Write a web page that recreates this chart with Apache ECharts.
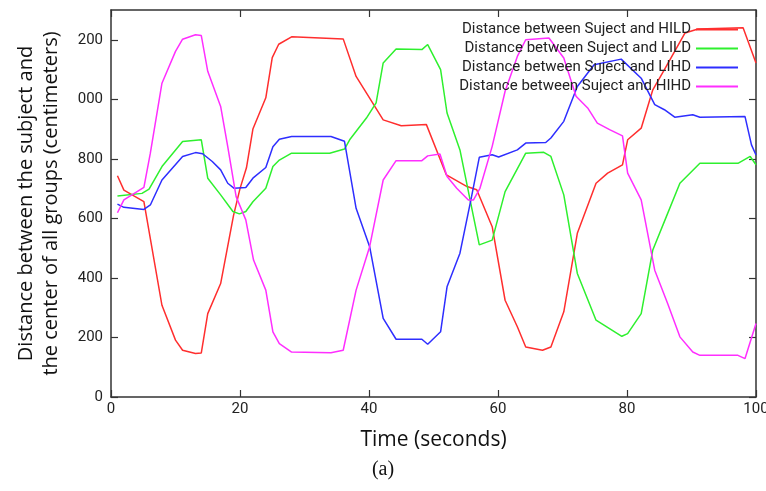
<!DOCTYPE html>
<html>
<head>
<meta charset="utf-8">
<script src="https://cdn.jsdelivr.net/npm/echarts@6/dist/echarts.min.js"></script>
<style>
  html, body { margin: 0; padding: 0; background: #fff; }
  #chart { width: 766px; height: 491px; }
  #err { position: absolute; left: 130px; top: 150px; width: 600px; font: 12px monospace; color: #900; }
</style>
</head>
<body>
<div id="chart"></div>
<div id="err"></div>
<script>
window.onerror = function (msg, src, line) {
  document.getElementById('err').textContent += msg + ' @' + line + ' | ';
};
</script>
<script>
// time (s) and distance (cm) breakpoints for each group
const hildT = [1, 2, 5.1, 7.9, 10, 11.1, 13.1, 14, 15, 17, 19, 20, 21, 22, 24, 25, 26, 28, 36, 38, 40.1, 42.2, 45, 48.9, 52, 55.2, 56.7, 59.1, 61.1, 63, 64.3, 66.9, 68.2, 70.2, 72.3, 75.2, 77, 79.3, 80.1, 82.2, 84, 85.8, 89, 91, 98, 100];
const hildV = [743, 695, 656, 308, 191, 157, 146, 148, 280, 381, 610, 700, 770, 900, 1005, 1140, 1185, 1210, 1203, 1077, 1004, 931, 911, 915, 746, 707, 696, 572, 325, 236, 168, 157, 168, 286, 550, 718, 752, 780, 864, 903, 1032, 1100, 1223, 1236, 1240, 1122];

const lildT = [1, 4.8, 5.9, 7.9, 11.1, 14, 15, 17, 18.9, 19.9, 20.9, 22, 24, 25.1, 26.1, 28, 33.9, 36.2, 37, 39.6, 41.1, 42.2, 44.2, 48.2, 49.1, 51.1, 52.1, 54.1, 56.2, 57.1, 59.1, 61.1, 64.3, 67.1, 68.2, 70.2, 72.3, 75.2, 79.2, 80.1, 82.2, 84, 86.1, 88.2, 91.3, 97.2, 99.1, 100];
const lildV = [675, 684, 698, 774, 858, 864, 735, 679, 623, 615, 623, 656, 701, 774, 796, 819, 819, 833, 864, 937, 988, 1122, 1169, 1167, 1184, 1100, 954, 830, 606, 511, 527, 690, 819, 822, 808, 679, 415, 258, 204, 213, 280, 494, 606, 718, 785, 785, 808, 780];

const lihdT = [1, 2, 5.1, 6.1, 7.9, 11.1, 13.1, 14.2, 15.7, 17, 18.1, 19.1, 20.9, 22, 24, 25.1, 26.1, 28, 34.1, 36.2, 38, 40.1, 42.2, 44.2, 48.2, 49.1, 51.1, 52.1, 54.1, 55.9, 57.1, 59.1, 60.1, 63, 64.3, 67.4, 68.2, 70.2, 72.3, 74.9, 79.1, 82.2, 84.3, 85.8, 87.4, 90.2, 91.3, 98.3, 99.3, 100];
const lihdV = [648, 637, 630, 645, 729, 808, 821, 817, 791, 763, 718, 701, 704, 735, 771, 841, 866, 875, 875, 859, 634, 505, 264, 194, 194, 177, 219, 370, 483, 673, 805, 814, 806, 830, 853, 855, 870, 926, 1043, 1116, 1135, 1071, 982, 965, 940, 948, 940, 942, 847, 813];

const hihdT = [1, 2, 5.1, 6.1, 7.9, 10, 11.1, 13.1, 14, 15, 17, 18.1, 19.4, 20.9, 22.1, 24, 25.1, 26.1, 28, 34.1, 36, 38, 40.1, 42.2, 44.2, 48.2, 49.1, 51, 52.1, 53.6, 55.4, 56.2, 57.2, 59.1, 61.1, 63, 64.3, 67.9, 70.2, 72.1, 73.9, 75.4, 77.3, 79.3, 80.1, 82.2, 84.3, 86.3, 88.2, 90.2, 91.3, 97.2, 98.3, 100];
const hihdV = [619, 662, 704, 819, 1054, 1161, 1202, 1217, 1214, 1094, 976, 841, 673, 595, 460, 359, 219, 179, 151, 149, 157, 359, 505, 729, 794, 794, 810, 816, 741, 701, 662, 662, 701, 842, 1027, 1144, 1200, 1206, 1139, 1010, 971, 920, 898, 877, 752, 662, 426, 314, 202, 151, 140, 140, 129, 247];

const seriesNames = [
  'Distance between Suject and HILD',
  'Distance between Suject and LILD',
  'Distance between Suject and LIHD',
  'Distance between Suject and HIHD'
];
const seriesColors = ['#ff2e2e', '#2ef02e', '#2e2eff', '#ff2eff'];
const yTicks = [0, 200, 400, 600, 800, 1000, 1200];

const pairs = (t, v) => t.map((x, i) => [x, v[i]]);
const allData = [pairs(hildT, hildV), pairs(lildT, lildV), pairs(lihdT, lihdV), pairs(hihdT, hihdV)];

const chart = echarts.init(document.getElementById('chart'));
const axisLine = () => ({ show: true, onZero: false, lineStyle: { color: '#333', width: 1.5 } });
const tickIn = () => ({ show: true, inside: true, length: 7, lineStyle: { color: '#333', width: 1.2 } });
const yTickIn = () => Object.assign(tickIn(), { customValues: yTicks });

chart.setOption({
  animation: false,
  grid: { left: 111, right: 10, top: 10, bottom: 94, containLabel: false, outerBoundsMode: 'none' },
  title: {
    text: '(a)',
    left: 'center',
    top: 455,
    textStyle: { fontFamily: 'Liberation Serif', fontSize: 20, fontWeight: 'normal', color: '#111' }
  },
  legend: {
    right: 23,
    top: 17,
    orient: 'vertical',
    align: 'right',
    icon: 'rect',
    itemWidth: 42,
    itemHeight: 2,
    itemGap: 4,
    data: seriesNames,
    textStyle: { fontFamily: 'Roboto', fontSize: 15, color: '#222', lineHeight: 15 }
  },
  xAxis: [
    {
      type: 'value', min: 0, max: 100, interval: 20,
      name: 'Time (seconds)', nameLocation: 'middle', nameGap: 33,
      nameTextStyle: { fontFamily: 'Open Sans', fontSize: 21, color: '#111' },
      axisLine: axisLine(), axisTick: tickIn(), splitLine: { show: false },
      axisLabel: { fontFamily: 'Roboto', fontSize: 15, color: '#222', margin: 5 }
    },
    {
      type: 'value', min: 0, max: 100, interval: 20, position: 'top',
      axisLine: axisLine(), axisTick: tickIn(), axisLabel: { show: false }, splitLine: { show: false }
    }
  ],
  yAxis: [
    {
      type: 'value', min: 0, max: 1300, interval: 200,
      name: 'Distance between the subject and\nthe center of all groups (centimeters)',
      nameLocation: 'middle', nameGap: 47,
      nameTextStyle: { fontFamily: 'Open Sans', fontSize: 20, color: '#111', lineHeight: 25 },
      axisLine: axisLine(), axisTick: yTickIn(), splitLine: { show: false },
      axisLabel: {
        fontFamily: 'Roboto', fontSize: 15, color: '#222', margin: 8,
        customValues: yTicks,
        formatter: v => (v >= 1000 ? String(v).slice(1) : String(v))
      }
    },
    {
      type: 'value', min: 0, max: 1300, interval: 200, position: 'right',
      axisLine: axisLine(), axisTick: yTickIn(), axisLabel: { show: false }, splitLine: { show: false }
    }
  ],
  series: seriesNames.map((name, i) => ({
    name: name,
    type: 'line',
    data: allData[i],
    symbol: 'none',
    lineStyle: { width: 1.5, color: seriesColors[i] },
    itemStyle: { color: seriesColors[i] }
  }))
});
</script>
</body>
</html>
